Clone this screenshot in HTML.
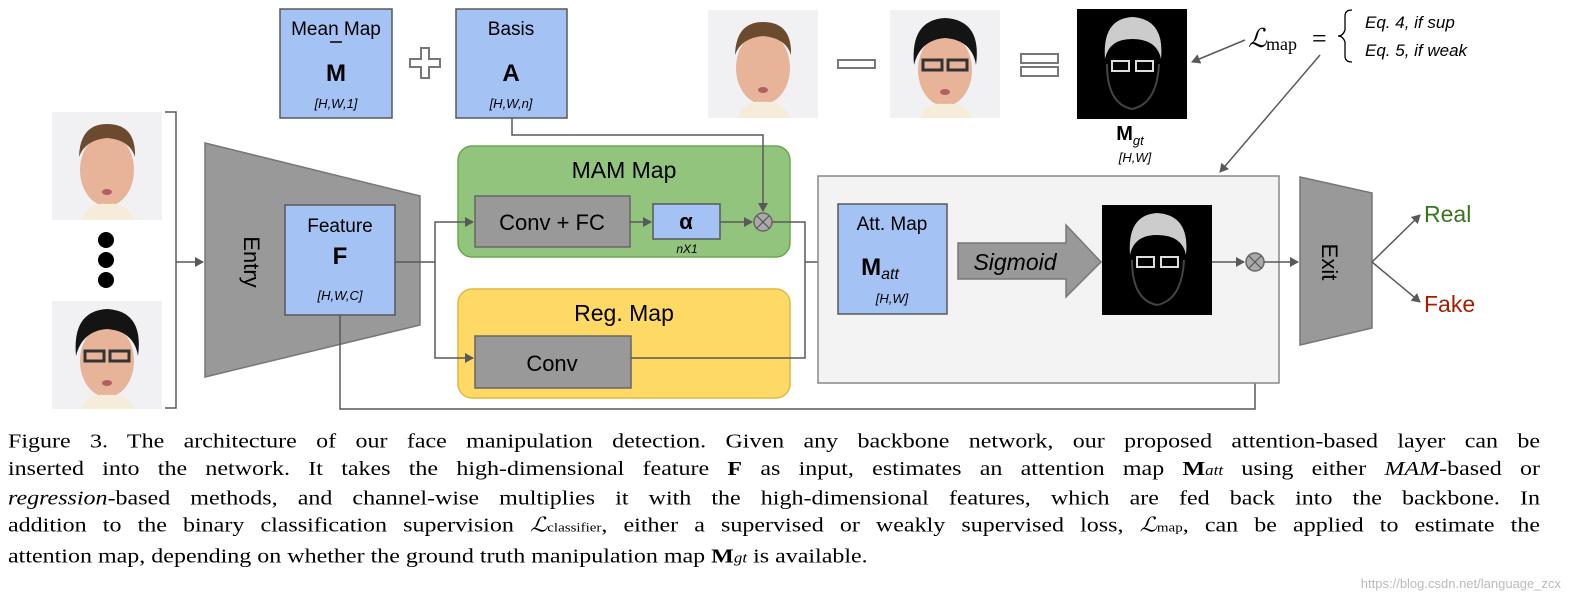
<!DOCTYPE html>
<html><head><meta charset="utf-8"><style>
html,body{margin:0;padding:0;background:#fff;}
#w{position:relative;width:1569px;height:597px;overflow:hidden;}
svg{position:absolute;left:0;top:0;}
.cap{position:absolute;left:8px;top:428px;width:1532px;font-family:"Liberation Serif",serif;font-size:24px;line-height:32.4px;color:#000;transform:scale(1,0.85);transform-origin:0 0;}
.cap div{text-align:justify;text-align-last:justify;white-space:nowrap;}
.cap div.l{text-align-last:left;}
.wm{position:absolute;right:8px;bottom:6px;font-family:"Liberation Sans",sans-serif;font-size:13px;color:#bbb;}
</style></head><body><div id="w">
<svg width="1569" height="597" font-family="Liberation Sans, sans-serif">
<defs>
<marker id="a" markerWidth="10" markerHeight="10" refX="8" refY="5" orient="auto" markerUnits="userSpaceOnUse"><path d="M0,0 L9,5 L0,10 z" fill="#595959"/></marker>
<g id="face1"><rect width="110" height="108" fill="#f1f1f4"/><ellipse cx="55" cy="58" rx="27" ry="36" fill="#e7b49a"/><path d="M27,45 Q28,12 55,12 Q84,12 83,45 Q78,28 55,26 Q33,28 27,45z" fill="#6b4a2e"/><path d="M30,108 Q35,90 55,92 Q76,90 82,108z" fill="#f5ecd9"/><ellipse cx="55" cy="80" rx="5" ry="3" fill="#b06060"/></g>
<g id="face2"><rect width="110" height="108" fill="#f1f1f4"/><ellipse cx="55" cy="60" rx="27" ry="36" fill="#e7b49a"/><path d="M24,55 Q20,10 55,8 Q92,10 86,55 Q82,30 55,28 Q30,30 24,55z" fill="#141414"/><rect x="33" y="50" width="19" height="10" fill="none" stroke="#333" stroke-width="3"/><rect x="58" y="50" width="19" height="10" fill="none" stroke="#333" stroke-width="3"/><path d="M30,108 Q35,92 55,94 Q76,92 82,108z" fill="#f5ecd9"/><ellipse cx="55" cy="82" rx="5" ry="3" fill="#b06060"/></g>
<g id="mask"><rect width="110" height="110" fill="#000"/><path d="M28,50 Q25,10 55,8 Q88,10 84,50 Q80,30 55,30 Q32,30 28,50z" fill="#ccc"/><rect x="35" y="52" width="17" height="10" fill="none" stroke="#ddd" stroke-width="2"/><rect x="59" y="52" width="17" height="10" fill="none" stroke="#ddd" stroke-width="2"/><path d="M30,55 Q30,95 55,100 Q80,95 82,55" fill="none" stroke="#444" stroke-width="2"/></g>
</defs>
<rect x="280" y="9" width="112" height="109" fill="#a4c2f4" stroke="#595959" stroke-width="1.5"/>
<text x="336" y="35" font-size="19" text-anchor="middle">Mean Map</text>
<line x1="330" y1="42" x2="342" y2="42" stroke="#000" stroke-width="1.5"/>
<text x="336" y="81" font-size="24" font-weight="bold" text-anchor="middle">M</text>
<text x="336" y="108" font-size="13" font-style="italic" text-anchor="middle">[H,W,1]</text>
<path d="M421,48h8v11h11v8h-11v11h-8v-11h-11v-8h11z" fill="#fff" stroke="#777" stroke-width="2"/>
<rect x="456" y="9" width="111" height="109" fill="#a4c2f4" stroke="#595959" stroke-width="1.5"/>
<text x="511" y="35" font-size="19" text-anchor="middle">Basis</text>
<text x="511" y="81" font-size="24" font-weight="bold" text-anchor="middle">A</text>
<text x="511" y="108" font-size="13" font-style="italic" text-anchor="middle">[H,W,n]</text>
<use href="#face1" x="708" y="10"/>
<rect x="838" y="60" width="37" height="8" fill="#fff" stroke="#777" stroke-width="2"/>
<use href="#face2" x="890" y="10"/>
<rect x="1021" y="54" width="37" height="9" fill="#fff" stroke="#777" stroke-width="2"/>
<rect x="1021" y="67" width="37" height="9" fill="#fff" stroke="#777" stroke-width="2"/>
<use href="#mask" x="1077" y="9"/>
<text x="1130" y="140" font-size="20" font-weight="bold" text-anchor="middle">M<tspan font-size="13" font-weight="normal" font-style="italic" dy="5">gt</tspan></text>
<text x="1135" y="162" font-size="13" font-style="italic" text-anchor="middle">[H,W]</text>
<text x="1248" y="47" font-family="Liberation Serif, serif" font-size="26" font-style="italic">ℒ</text>
<text x="1266" y="50" font-family="Liberation Serif, serif" font-size="18">map</text>
<text x="1312" y="47" font-family="Liberation Serif, serif" font-size="26">=</text>
<path d="M1352,10 Q1345,10 1345,16 L1345,30 Q1343,36 1338,36 Q1343,36 1345,42 L1345,56 Q1345,62 1352,62" fill="none" stroke="#000" stroke-width="1.3"/>
<text x="1365" y="28" font-size="17" font-style="italic">Eq. 4, if sup</text>
<text x="1365" y="56" font-size="17" font-style="italic">Eq. 5, if weak</text>
<line x1="1245" y1="40" x2="1192" y2="62" stroke="#595959" stroke-width="1.5" marker-end="url(#a)"/>
<line x1="1320" y1="55" x2="1220" y2="172" stroke="#595959" stroke-width="1.5" marker-end="url(#a)"/>
<use href="#face1" x="52" y="112"/>
<use href="#face2" x="52" y="301"/>
<circle cx="106" cy="240" r="8" fill="#000"/><circle cx="106" cy="260" r="8" fill="#000"/><circle cx="106" cy="280" r="8" fill="#000"/>
<path d="M165,112 H176 V408 H165" fill="none" stroke="#595959" stroke-width="1.5"/>
<line x1="176" y1="262" x2="203" y2="262" stroke="#595959" stroke-width="1.5" marker-end="url(#a)"/>
<polygon points="205,143 420,196 420,325 205,377" fill="#999" stroke="#777" stroke-width="1.5"/>
<text transform="translate(244,262) rotate(90)" font-size="22" text-anchor="middle">Entry</text>
<rect x="285" y="205" width="110" height="110" fill="#a4c2f4" stroke="#595959" stroke-width="1.5"/>
<text x="340" y="232" font-size="19" text-anchor="middle">Feature</text>
<text x="340" y="264" font-size="24" font-weight="bold" text-anchor="middle">F</text>
<text x="340" y="300" font-size="13" font-style="italic" text-anchor="middle">[H,W,C]</text>
<rect x="458" y="146" width="332" height="111" rx="14" fill="#93c47d" stroke="#6aa84f" stroke-width="1.5"/>
<text x="624" y="178" font-size="23" text-anchor="middle">MAM Map</text>
<rect x="475" y="196" width="155" height="51" fill="#999" stroke="#666" stroke-width="1.5"/>
<text x="552" y="230" font-size="22" text-anchor="middle">Conv + FC</text>
<rect x="653" y="204" width="67" height="35" fill="#a4c2f4" stroke="#595959" stroke-width="1.5"/>
<text x="686" y="229" font-size="22" font-weight="bold" text-anchor="middle">α</text>
<text x="687" y="253" font-size="12" font-style="italic" text-anchor="middle">nX1</text>
<circle cx="763" cy="222" r="9" fill="#aaa" stroke="#666" stroke-width="1.5"/>
<path d="M757,216l12,12M769,216l-12,12" stroke="#555" stroke-width="1.2"/>
<rect x="458" y="289" width="332" height="109" rx="14" fill="#ffd966" stroke="#e0b73f" stroke-width="1.5"/>
<text x="624" y="321" font-size="23" text-anchor="middle">Reg. Map</text>
<rect x="475" y="336" width="156" height="52" fill="#999" stroke="#666" stroke-width="1.5"/>
<text x="552" y="371" font-size="22" text-anchor="middle">Conv</text>
<g stroke="#595959" stroke-width="1.5" fill="none">
<path d="M395,262 H435 V222 H473" marker-end="url(#a)"/>
<path d="M435,262 V358 H473" marker-end="url(#a)"/>
<path d="M630,222 H651" marker-end="url(#a)"/>
<path d="M720,222 H752" marker-end="url(#a)"/>
<path d="M512,118 V135 H763 V211" marker-end="url(#a)"/>
<path d="M772,222 H805 V262"/>
<path d="M631,358 H805 V262 H836" marker-end="url(#a)"/>
<path d="M340,315 V409 H1255 V273" marker-end="url(#a)"/>
</g>
<rect x="818" y="176" width="461" height="207" fill="#f3f3f3" stroke="#888" stroke-width="1.5"/>
<rect x="838" y="204" width="109" height="110" fill="#a4c2f4" stroke="#595959" stroke-width="1.5"/>
<text x="892" y="230" font-size="19" text-anchor="middle">Att. Map</text>
<text x="880" y="275" font-size="24" font-weight="bold" text-anchor="middle">M<tspan font-size="16" font-weight="normal" font-style="italic" dy="4">att</tspan></text>
<text x="892" y="303" font-size="13" font-style="italic" text-anchor="middle">[H,W]</text>
<polygon points="958,243 1066,243 1066,225 1101,262 1066,297 1066,279 958,279" fill="#999" stroke="#777" stroke-width="1.5"/>
<text x="1015" y="270" font-size="23" font-style="italic" text-anchor="middle">Sigmoid</text>
<use href="#mask" x="1102" y="205"/>
<line x1="1212" y1="262" x2="1244" y2="262" stroke="#595959" stroke-width="1.5" marker-end="url(#a)"/>
<circle cx="1255" cy="262" r="9" fill="#aaa" stroke="#666" stroke-width="1.5"/>
<path d="M1249,256l12,12M1261,256l-12,12" stroke="#555" stroke-width="1.2"/>
<line x1="1264" y1="262" x2="1298" y2="262" stroke="#595959" stroke-width="1.5" marker-end="url(#a)"/>
<polygon points="1300,177 1372,193 1372,328 1300,345" fill="#999" stroke="#777" stroke-width="1.5"/>
<text transform="translate(1322,262) rotate(90)" font-size="22" text-anchor="middle">Exit</text>
<line x1="1372" y1="262" x2="1420" y2="215" stroke="#595959" stroke-width="1.5" marker-end="url(#a)"/>
<line x1="1372" y1="262" x2="1420" y2="302" stroke="#595959" stroke-width="1.5" marker-end="url(#a)"/>
<text x="1424" y="222" font-size="23" fill="#38761d">Real</text>
<text x="1424" y="312" font-size="23" fill="#a61c00">Fake</text>
</svg>
<div class="cap">
<div>Figure 3. The architecture of our face manipulation detection. Given any backbone network, our proposed attention-based layer can be</div>
<div>inserted into the network. It takes the high-dimensional feature <b>F</b> as input, estimates an attention map <b>M</b><i style="font-size:17px">att</i> using either <i>MAM</i>-based or</div>
<div><i>regression</i>-based methods, and channel-wise multiplies it with the high-dimensional features, which are fed back into the backbone. In</div>
<div>addition to the binary classification supervision <i>ℒ</i><span style="font-size:15px">classifier</span>, either a supervised or weakly supervised loss, <i>ℒ</i><span style="font-size:15px">map</span>, can be applied to estimate the</div>
<div class="l">attention map, depending on whether the ground truth manipulation map <b>M</b><i style="font-size:17px">gt</i> is available.</div>
</div>
<div class="wm">https://blog.csdn.net/language_zcx</div>
</div></body></html>
